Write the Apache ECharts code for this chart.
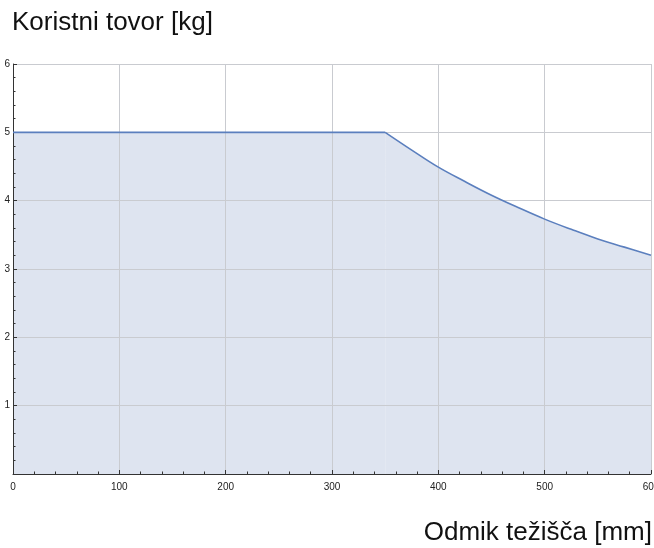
<!DOCTYPE html>
<html>
<head>
<meta charset="utf-8">
<script src="https://cdn.jsdelivr.net/npm/echarts@6/dist/echarts.min.js"></script>
<style>
  html, body { margin: 0; padding: 0; background: #fff; }
  #chart { width: 654px; height: 548px; }
</style>
</head>
<body>
<div id="chart"></div>
<script>
// Odmik težišča [mm] -> koristni tovor [kg]
// flat part up to the knee at 350 mm
var odmikRavno = [0, 100, 200, 300, 350];
var tovorRavno = [5, 5, 5, 5, 5];
// falling part after the knee
var odmikPad = [350, 375, 400, 425, 450, 475, 500, 525, 550, 575, 600];
var tovorPad = [5, 4.74, 4.49, 4.28, 4.08, 3.90, 3.73, 3.58, 3.44, 3.32, 3.20];

var xTicks = [0, 100, 200, 300, 400, 500, 600];
var yTicks = [1, 2, 3, 4, 5, 6];

var chart = echarts.init(document.getElementById("chart"));

function pairs(xs, ys) {
  var out = [];
  for (var i = 0; i < xs.length; i++) out.push([xs[i], ys[i]]);
  return out;
}

var font = "Liberation Sans, Arial, sans-serif";
var lineColor = "#5b7fbe";
var fillColor = "#dee4f0";

// area under the axes (z 1), line on top of the grid (z 5)
function fill(data, smooth) {
  return {
    type: "line", data: data, showSymbol: false, smooth: smooth,
    lineStyle: { width: 0, opacity: 0 },
    areaStyle: { color: fillColor, opacity: 1 },
    silent: true, z: 1
  };
}
function edge(data, smooth) {
  return {
    type: "line", data: data, showSymbol: false, smooth: smooth,
    lineStyle: { color: lineColor, width: 1.6 },
    z: 5
  };
}

var ravno = pairs(odmikRavno, tovorRavno);
var pad = pairs(odmikPad, tovorPad);

var option = {
  animation: false,
  title: [
    {
      text: "Koristni tovor [kg]",
      left: 12,
      top: 10,
      padding: 0,
      textStyle: { fontFamily: font, fontSize: 26, fontWeight: "normal", color: "#111" }
    },
    {
      text: "Odmik težišča [mm]",
      right: 2,
      top: 520,
      padding: 0,
      textStyle: { fontFamily: font, fontSize: 26, fontWeight: "normal", color: "#111" }
    }
  ],
  grid: { left: 13, right: 3, top: 64, bottom: 74, outerBoundsMode: "none", containLabel: false },
  xAxis: {
    type: "value",
    min: 0,
    max: 600,
    interval: 100,
    z: 3,
    axisLine: { show: true, onZero: false, lineStyle: { color: "#333", width: 1 } },
    axisTick: { show: true, inside: true, length: 4, lineStyle: { color: "#333" } },
    minorTick: { show: true, splitNumber: 5, length: 2.5, lineStyle: { color: "#333" } },
    splitLine: { show: true, lineStyle: { color: "#c9cbd0", width: 1 } },
    axisLabel: {
      margin: 8,
      fontFamily: font,
      fontSize: 10,
      color: "#222",
      showMaxLabel: true,
      hideOverlap: false,
      formatter: function (v) { return xTicks.indexOf(v) >= 0 ? String(v) : ""; }
    }
  },
  yAxis: {
    type: "value",
    min: 0,
    max: 6,
    interval: 1,
    z: 3,
    axisLine: { show: true, onZero: false, lineStyle: { color: "#333", width: 1 } },
    axisTick: { show: true, inside: true, length: 4, lineStyle: { color: "#333" } },
    minorTick: { show: true, splitNumber: 5, length: 2.5, lineStyle: { color: "#333" } },
    splitLine: { show: true, lineStyle: { color: "#c9cbd0", width: 1 } },
    axisLabel: {
      margin: 3,
      fontFamily: font,
      fontSize: 10,
      color: "#222",
      formatter: function (v) { return yTicks.indexOf(v) >= 0 ? String(v) : ""; }
    }
  },
  series: [
    fill(ravno, false),
    fill(pad, 0.4),
    edge(ravno, false),
    edge(pad, 0.4)
  ]
};

chart.setOption(option);
</script>
</body>
</html>
